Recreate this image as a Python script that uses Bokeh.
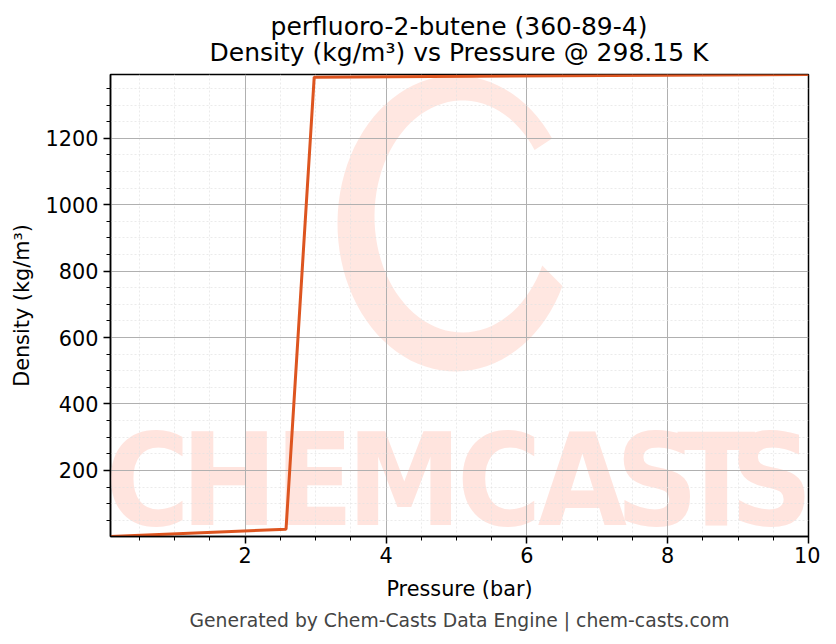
import numpy as np
from bokeh.plotting import figure
from bokeh.layouts import column
from bokeh.models import Range1d, FixedTicker, Title, ColumnDataSource, Div
from bokeh.core.properties import value
from bokeh.embed import file_html
from bokeh.resources import INLINE

# data
pressure_bar = [0.087, 2.58, 2.98, 10.0]
density_kgm3 = [1.0, 23.0, 1384.0, 1392.0]

x_major = [2, 4, 6, 8, 10]
x_minor = [0.5, 1.0, 1.5, 2.5, 3.0, 3.5, 4.5, 5.0, 5.5, 6.5, 7.0, 7.5, 8.5, 9.0, 9.5]
y_major = [200, 400, 600, 800, 1000, 1200]
y_minor = [50, 100, 150, 250, 300, 350, 450, 500, 550, 650, 700, 750, 850, 900, 950,
           1050, 1100, 1150, 1250, 1300, 1350]

title_line1 = "perfluoro-2-butene (360-89-4)"
title_line2 = "Density (kg/m³) vs Pressure @ 298.15 K"
x_label = "Pressure (bar)"
y_label = "Density (kg/m³)"
footer = "Generated by Chem-Casts Data Engine | chem-casts.com"
watermark_letters = list("CHEMCASTS")

# ---- style ----
FONT = "DejaVu Sans"
LINE_COLOR = "#DD5520"
WM_COLOR = "#FFE4DE"
FRAME_W, FRAME_H = 698, 462
wm_letter_frac = [0.053, 0.170, 0.292, 0.421, 0.557, 0.676, 0.783, 0.868, 0.947]

x0, x1 = min(pressure_bar), max(pressure_bar)
y0, y1 = min(density_kgm3), max(density_kgm3)
sx = (x1 - x0) / FRAME_W   # data per pixel
sy = (y1 - y0) / FRAME_H

p = figure(width=820, height=574, output_backend="svg", toolbar_location=None,
           x_range=Range1d(x0, x1), y_range=Range1d(y0, y1),
           min_border_left=110, min_border_right=12, min_border_top=8,
           min_border_bottom=104)
p.title = None

# watermark (decorative)
wm_src = ColumnDataSource(dict(x=[x0 + f * (x1 - x0) for f in wm_letter_frac],
                               y=[y0 + 0.121 * (y1 - y0)] * len(watermark_letters),
                               t=watermark_letters))
r = p.text(x="x", y="y", text="t", source=wm_src, text_color=WM_COLOR,
           text_font=value("'DejaVu Sans Condensed', 'Roboto Condensed', Roboto"),
           text_font_style="bold",
           text_font_size="128px", text_align="center", text_baseline="middle")
r.level = "image"

# "C" logo ring (decorative), elliptical in screen space
th = np.radians(np.linspace(35, 335, 80))
cx, cy = x0 + 345 * sx, y0 + 313 * sy
icx, icy = x0 + 352 * sx, y0 + 320 * sy
ox = cx + 118 * sx * np.cos(th)
oy = cy + 148 * sy * np.sin(th)
ix = icx + 88 * sx * np.cos(th[::-1])
iy = icy + 116 * sy * np.sin(th[::-1])
r2 = p.patch(np.concatenate([ox, ix]), np.concatenate([oy, iy]),
             fill_color=WM_COLOR, line_color=None, fill_alpha=0.9)
r2.level = "image"

p.line(pressure_bar, density_kgm3, line_color=LINE_COLOR, line_width=3)

# axes
for ax in (p.xaxis[0], p.yaxis[0]):
    ax.axis_line_color = "black"
    ax.axis_line_width = 1.5
    ax.major_tick_line_color = "black"
    ax.major_tick_line_width = 1.5
    ax.minor_tick_line_color = "black"
    ax.minor_tick_line_width = 1.0
    ax.major_tick_in = 0
    ax.major_tick_out = 7
    ax.minor_tick_in = 0
    ax.minor_tick_out = 4
    ax.major_label_text_font = FONT
    ax.major_label_text_font_size = "20.8px"
    ax.major_label_text_color = "black"
    ax.axis_label_text_font = FONT
    ax.axis_label_text_font_size = "20.8px"
    ax.axis_label_text_font_style = "normal"
    ax.axis_label_text_color = "black"

p.xaxis.ticker = FixedTicker(ticks=x_major, minor_ticks=x_minor)
p.yaxis.ticker = FixedTicker(ticks=y_major, minor_ticks=y_minor)
p.xaxis.axis_label = x_label
p.yaxis.axis_label = y_label
p.xaxis.major_label_standoff = 3
p.yaxis.major_label_standoff = 5
p.xaxis.axis_label_standoff = 11
p.yaxis.axis_label_standoff = 9

# grids
for g in (p.xgrid[0], p.ygrid[0]):
    g.grid_line_color = "#b0b0b0"
    g.grid_line_width = 1.0
    g.minor_grid_line_color = "#e2e2e2"
    g.minor_grid_line_width = 0.7
    g.minor_grid_line_dash = "2 2"

p.outline_line_color = "black"
p.outline_line_width = 1.5
p.background_fill_color = "white"
p.border_fill_color = "white"

p.add_layout(Title(text=footer, align="center", text_font=FONT,
                   text_font_size="18.75px", text_font_style="normal",
                   text_color="#444444", standoff=8), "below")

# two-line centred title above the frame
title_div = Div(
    text=(f'<div style="width:{FRAME_W}px;margin-left:110px;padding-top:14px;'
          f'text-align:center;font-family:\'DejaVu Sans\';font-size:25px;'
          f'line-height:26px;color:black;white-space:nowrap">'
          f'{title_line1}<br>{title_line2}</div>'),
    width=820, height=66, margin=0)

layout = column(title_div, p, spacing=0)

open("out.html", "w").write(file_html(layout, INLINE))
